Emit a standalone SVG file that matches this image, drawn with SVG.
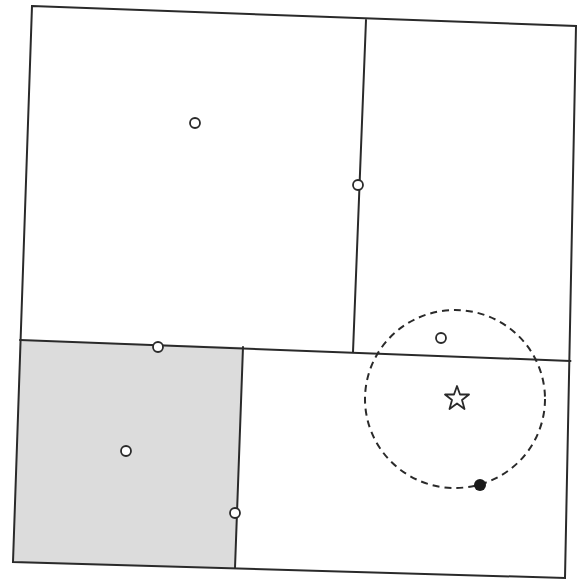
<svg xmlns="http://www.w3.org/2000/svg" width="580" height="584" viewBox="0 0 580 584">
<style>
.ln{stroke:#2a2a2a;stroke-width:2;fill:none;stroke-linecap:round}
.pt{fill:#fff;stroke:#2a2a2a;stroke-width:1.8}
</style>
<rect width="580" height="584" fill="#fff"/>
<g id="shaded-region">
<polygon points="20,340 243,347 235,568 13,562" fill="#dcdcdc"/>
</g>
<g id="connectors">
<polygon class="ln" points="32,6 576,26 565,578 13,562"/>
<line class="ln" x1="20" y1="340" x2="570.5" y2="361"/>
<line class="ln" x1="366" y1="20" x2="353" y2="352"/>
<line class="ln" x1="243" y1="347" x2="235" y2="568"/>
<ellipse cx="455" cy="399" rx="90" ry="89" fill="none" stroke="#2a2a2a" stroke-width="2" stroke-dasharray="7,5"/>
</g>
<g id="p1"><circle class="pt" cx="195" cy="123" r="5"/></g>
<g id="p2"><circle class="pt" cx="358" cy="185" r="5"/></g>
<g id="p3"><circle class="pt" cx="158" cy="347" r="5"/></g>
<g id="p4"><circle class="pt" cx="126" cy="451" r="5"/></g>
<g id="p5"><circle class="pt" cx="235" cy="513" r="5"/></g>
<g id="p6"><circle class="pt" cx="441" cy="338" r="5"/></g>
<g id="p7"><circle cx="480" cy="485" r="6" fill="#1a1a1a"/></g>
<g id="star"><polygon points="457,386 460,394.5 469,394.5 462,400 464.5,409 457,403.5 449.5,409 452,400 445,394.5 454,394.5" fill="#fff" stroke="#2a2a2a" stroke-width="1.8" stroke-linejoin="round"/></g>
</svg>
